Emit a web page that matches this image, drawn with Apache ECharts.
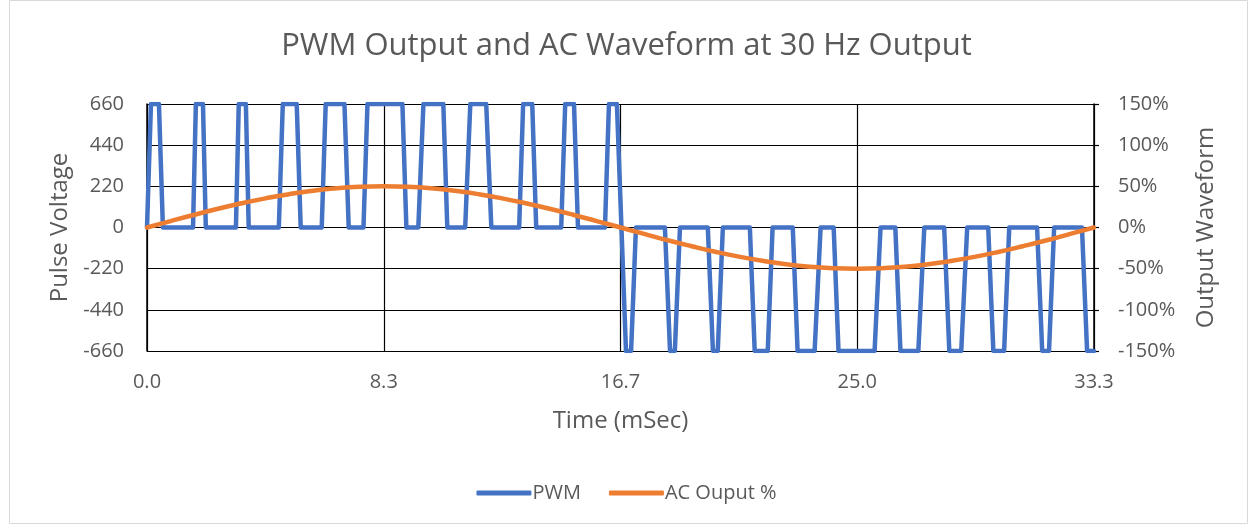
<!DOCTYPE html>
<html>
<head>
<meta charset="utf-8">
<script src="https://cdn.jsdelivr.net/npm/echarts@6/dist/echarts.min.js"></script>
<style>html,body{margin:0;padding:0;background:#fff}#c{width:1253px;height:527px}</style>
</head>
<body>
<div id="c"></div>
<script>
// PWM pulse train (time in ms, voltage in V)
const pwmTime = [
  0, 0.14, 0.42, 0.56,
  1.62, 1.72, 1.97, 2.07,
  3.13, 3.23, 3.48, 3.58,
  4.64, 4.78, 5.27, 5.41,
  6.15, 6.29, 6.95, 7.10,
  7.62, 7.76, 8.99, 9.13,
  9.55, 9.73, 10.43, 10.57,
  11.20, 11.38, 11.94, 12.12,
  13.10, 13.24, 13.56, 13.70,
  14.58, 14.72, 15.03, 15.17,
  16.12, 16.26, 16.54, 16.86,
  17.04, 17.21,
  18.23, 18.41, 18.58, 18.76,
  19.74, 19.92, 20.09, 20.27,
  21.22, 21.39, 21.85, 22.02,
  22.73, 22.90, 23.50, 23.71,
  24.17, 24.34, 25.61, 25.82,
  26.34, 26.52, 27.15, 27.36,
  28.06, 28.24, 28.66, 28.87,
  29.61, 29.79, 30.17, 30.35,
  31.33, 31.51, 31.75, 31.93,
  32.91, 33.09, 33.33
];
const pwmVolt = [
  0, 660, 660, 0,
  0, 660, 660, 0,
  0, 660, 660, 0,
  0, 660, 660, 0,
  0, 660, 660, 0,
  0, 660, 660, 0,
  0, 660, 660, 0,
  0, 660, 660, 0,
  0, 660, 660, 0,
  0, 660, 660, 0,
  0, 660, 660, -660,
  -660, 0,
  0, -660, -660, 0,
  0, -660, -660, 0,
  0, -660, -660, 0,
  0, -660, -660, 0,
  0, -660, -660, 0,
  0, -660, -660, 0,
  0, -660, -660, 0,
  0, -660, -660, 0,
  0, -660, -660, 0,
  0, -660, -660
];
// AC output waveform (time in ms, percent)
const acTime = [
  0, 0.83, 1.67, 2.50, 3.33, 4.17, 5.00, 5.83, 6.67, 7.50,
  8.33, 9.17, 10.00, 10.83, 11.67, 12.50, 13.33, 14.17, 15.00, 15.83,
  16.67, 17.50, 18.33, 19.17, 20.00, 20.83, 21.67, 22.50, 23.33, 24.17,
  25.00, 25.83, 26.67, 27.50, 28.33, 29.17, 30.00, 30.83, 31.67, 32.50,
  33.33
];
const acPct = [
  0, 7.8, 15.5, 22.7, 29.4, 35.4, 40.5, 44.6, 47.6, 49.4,
  50, 49.4, 47.6, 44.6, 40.5, 35.4, 29.4, 22.7, 15.5, 7.8,
  0, -7.8, -15.5, -22.7, -29.4, -35.4, -40.5, -44.6, -47.6, -49.4,
  -50, -49.4, -47.6, -44.6, -40.5, -35.4, -29.4, -22.7, -15.5, -7.8,
  0
];
const xTicks = ['0.0', '8.3', '16.7', '25.0', '33.3'];
const leftTicks = [-660, -440, -220, 0, 220, 440, 660];
const rightTicks = [-150, -100, -50, 0, 50, 100, 150];

const FONT = '"Open Sans"';
const GREY = '#595959';
const chart = echarts.init(document.getElementById('c'), null, {renderer: 'canvas'});
const pwmData = pwmTime.map((t, i) => [t, pwmVolt[i]]);
const acData = acTime.map((t, i) => [t, acPct[i]]);
const xMax = 100 / 3, xInt = 25 / 3;

chart.setOption({
  animation: false,
  backgroundColor: '#fff',
  textStyle: {fontFamily: FONT},
  title: {
    text: 'PWM Output and AC Waveform at 30 Hz Output',
    left: 'center', top: 26,
    textStyle: {fontFamily: FONT, fontSize: 31, fontWeight: 'normal', color: GREY}
  },
  graphic: [{
    type: 'rect', left: 7, top: -2, silent: true,
    shape: {width: 1238, height: 523},
    style: {fill: 'none', stroke: '#d9d9d9', lineWidth: 1}
  }],
  legend: {
    bottom: 19, left: 'center',
    icon: 'roundRect', itemWidth: 55, itemHeight: 5, itemGap: 28,
    textStyle: {fontFamily: FONT, fontSize: 20, color: GREY, padding: [0, 0, 0, -4]},
    data: ['PWM', 'AC Ouput %']
  },
  grid: {left: 147, right: 159, top: 104, bottom: 176},
  xAxis: {
    type: 'value', min: 0, max: xMax, interval: xInt,
    name: 'Time (mSec)', nameLocation: 'middle', nameGap: 58,
    nameTextStyle: {fontFamily: FONT, fontSize: 24, color: GREY},
    axisLine: {show: false}, axisTick: {show: false},
    axisLabel: {
      fontFamily: FONT, fontSize: 20, color: GREY, margin: 21,
      formatter: v => { const i = Math.round(v / xInt); return xTicks[i] !== undefined ? xTicks[i] : ''; }
    },
    splitLine: {show: true, lineStyle: {color: '#000', width: 1.2}}
  },
  yAxis: [{
    type: 'value', min: leftTicks[0], max: leftTicks[leftTicks.length - 1], interval: 220,
    name: 'Pulse Voltage', nameLocation: 'middle', nameGap: 75,
    nameTextStyle: {fontFamily: FONT, fontSize: 24, color: GREY},
    axisLine: {show: true, lineStyle: {color: '#000', width: 1.5}},
    axisTick: {show: false},
    axisLabel: {fontFamily: FONT, fontSize: 20, color: GREY, margin: 23},
    splitLine: {show: true, lineStyle: {color: '#000', width: 1.2}}
  }, {
    type: 'value', min: rightTicks[0], max: rightTicks[rightTicks.length - 1], interval: 50,
    name: 'Output Waveform', nameLocation: 'middle', nameGap: 100,
    nameTextStyle: {fontFamily: FONT, fontSize: 24, color: GREY},
    axisLine: {show: true, lineStyle: {color: '#000', width: 1.5}},
    axisTick: {show: true, inside: false, length: 5, lineStyle: {color: '#000', width: 1.2}},
    axisLabel: {fontFamily: FONT, fontSize: 20, color: GREY, margin: 24, formatter: '{value}%'},
    splitLine: {show: false}
  }],
  series: [{
    name: 'PWM', type: 'line', data: pwmData, yAxisIndex: 0,
    showSymbol: false, symbol: 'none',
    lineStyle: {color: '#4472C4', width: 4.5, cap: 'round', join: 'round'},
    itemStyle: {color: '#4472C4'}, z: 2
  }, {
    name: 'AC Ouput %', type: 'line', data: acData, yAxisIndex: 1,
    showSymbol: false, symbol: 'none', smooth: true,
    lineStyle: {color: '#ED7D31', width: 4.5, cap: 'round', join: 'round'},
    itemStyle: {color: '#ED7D31'}, z: 3
  }]
});
</script>
</body>
</html>
